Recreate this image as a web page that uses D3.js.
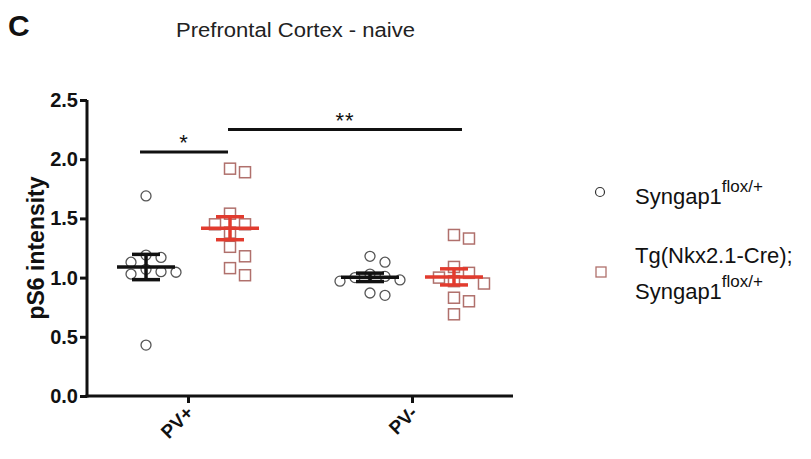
<!DOCTYPE html>
<html>
<head>
<meta charset="utf-8">
<script src="https://cdn.jsdelivr.net/npm/d3@7"></script>
<style>
  body { margin: 0; background: #fff; }
  svg { display: block; }
  text { font-family: "Liberation Sans", Arial, sans-serif; }
</style>
</head>
<body>
<svg id="chart" width="811" height="459"></svg>
<script>
// groups on the x axis and the two genotypes
var groups = ["PV+", "PV-"];
var seriesKeys = ["ctrl", "mut"];

// individual animals
var ctrlPVpos = [1.69, 1.19, 1.17, 1.13, 1.07, 1.05, 1.045, 1.03, 0.43];
var mutPVpos = [1.92, 1.89, 1.54, 1.45, 1.45, 1.38, 1.26, 1.18, 1.08, 1.02];
var ctrlPVneg = [1.18, 1.13, 1.03, 1.01, 1.00, 0.98, 0.97, 0.87, 0.85];
var mutPVneg = [1.36, 1.33, 1.09, 1.04, 1.00, 0.97, 0.95, 0.83, 0.80, 0.69];

var yTicks = [0, 0.5, 1.0, 1.5, 2.0, 2.5];

// significance brackets: [group, series] -> [group, series]
var brackets = [
    {from: ["PV+", "ctrl"], to: ["PV+", "mut"], y: 2.06, label: "*"},
    {from: ["PV+", "mut"], to: ["PV-", "mut"], y: 2.25, label: "**"}
];

var cells = [
    {group: "PV+", series: "ctrl", values: ctrlPVpos},
    {group: "PV+", series: "mut", values: mutPVpos},
    {group: "PV-", series: "ctrl", values: ctrlPVneg},
    {group: "PV-", series: "mut", values: mutPVneg}
];

var svg = d3.select("#chart"),
    plotLeft = 87, plotRight = 513, plotTop = 100, plotBottom = 396,
    colors = {ctrl: {line: "#111", mark: "#555"}, mut: {line: "#e23b2e", mark: "#b0706c"}};

var x = d3.scalePoint().domain(groups).range([plotLeft, plotRight]).padding(0.451),
    y = d3.scaleLinear().domain([0, 2.5]).range([plotBottom, plotTop]),
    shift = d3.scalePoint().domain(seriesKeys).range([-x.step() * 0.1875, x.step() * 0.1875]);

function cx(g, s) { return x(g) + shift(s); }

// titles
svg.append("text").attr("x", 8).attr("y", 36)
    .attr("font-size", 30).attr("font-weight", "bold").attr("fill", "#111").text("C");
svg.append("text").attr("x", 176).attr("y", 37)
    .attr("font-family", "'Open Sans', sans-serif").attr("font-size", 20).attr("fill", "#222")
    .attr("textLength", 239).attr("lengthAdjust", "spacingAndGlyphs")
    .text("Prefrontal Cortex - naive");

// axes
var yAxis = svg.append("g").attr("transform", "translate(" + plotLeft + ",0)")
    .call(d3.axisLeft(y).tickValues(yTicks).tickFormat(d3.format(".1f")).tickSize(7).tickSizeOuter(0));
var xAxis = svg.append("g").attr("transform", "translate(0," + plotBottom + ")")
    .call(d3.axisBottom(x).tickSize(7).tickSizeOuter(0).tickFormat(""));

svg.selectAll(".domain").attr("stroke", "#111").attr("stroke-width", 3);
svg.selectAll(".tick line").attr("stroke", "#111").attr("stroke-width", 3);
yAxis.select(".domain").attr("d", "M0," + (plotBottom + 1.5) + "V" + plotTop);
xAxis.select(".domain").attr("d", "M" + (plotLeft - 1.5) + ",0H" + plotRight);
yAxis.selectAll(".tick text").attr("x", -9).attr("font-size", 20).attr("font-weight", "bold")
    .attr("fill", "#111").attr("font-family", "'Liberation Sans', Arial, sans-serif");

xAxis.selectAll(".tick").append("text")
    .attr("transform", "translate(6,18) rotate(-45)")
    .attr("text-anchor", "end").attr("font-size", 19).attr("font-weight", "bold")
    .attr("fill", "#111").attr("font-family", "'Liberation Sans', Arial, sans-serif")
    .text(function(d) { return d; });

svg.append("text")
    .attr("transform", "translate(44," + ((plotTop + plotBottom) / 2) + ") rotate(-90)")
    .attr("text-anchor", "middle").attr("font-size", 23).attr("font-weight", "bold")
    .attr("fill", "#111")
    .text("pS6 intensity");

// simple swarm so points don't overlap
function swarm(values, center) {
    var placed = [], r = 5.5, step = 5;
    values.slice().sort(function(a, b) { return b - a; }).forEach(function(v) {
        var py = y(v);
        for (var k = 0; k < 40; k++) {
            var off = (k % 2 ? 1 : -1) * Math.ceil(k / 2) * step,
                px = center + off;
            var hit = placed.some(function(p) {
                return Math.abs(p.x - px) < 2 * r && Math.abs(p.y - py) < 2 * r;
            });
            if (!hit) { placed.push({x: px, y: py, v: v}); break; }
        }
    });
    return placed;
}

cells.forEach(function(c) {
    var pts = swarm(c.values, cx(c.group, c.series)),
        col = colors[c.series];
    if (c.series == "ctrl") {
        svg.selectAll(null).data(pts).enter().append("circle")
            .attr("cx", function(d) { return d.x; })
            .attr("cy", function(d) { return d.y; })
            .attr("r", 5)
            .attr("fill", "none").attr("stroke", col.mark).attr("stroke-width", 1.3);
    } else {
        svg.selectAll(null).data(pts).enter().append("rect")
            .attr("x", function(d) { return d.x - 5.5; })
            .attr("y", function(d) { return d.y - 5.5; })
            .attr("width", 11).attr("height", 11)
            .attr("fill", "none").attr("stroke", col.mark).attr("stroke-width", 1.5);
    }
});

// mean +- SEM
cells.forEach(function(c) {
    var m = d3.mean(c.values),
        sem = d3.deviation(c.values) / Math.sqrt(c.values.length),
        px = cx(c.group, c.series),
        col = colors[c.series].line,
        g = svg.append("g").attr("stroke", col).attr("stroke-width", 3.5);
    g.append("line").attr("x1", px - 29).attr("x2", px + 29).attr("y1", y(m)).attr("y2", y(m));
    g.append("line").attr("x1", px).attr("x2", px).attr("y1", y(m + sem)).attr("y2", y(m - sem));
    g.append("line").attr("x1", px - 14).attr("x2", px + 14).attr("y1", y(m + sem)).attr("y2", y(m + sem));
    g.append("line").attr("x1", px - 14).attr("x2", px + 14).attr("y1", y(m - sem)).attr("y2", y(m - sem));
});

// significance brackets
brackets.forEach(function(b) {
    var x1 = cx(b.from[0], b.from[1]) - 6, x2 = cx(b.to[0], b.to[1]) - 2;
    if (b.from[1] == "mut") { x1 = cx(b.from[0], b.from[1]) - 2; x2 = cx(b.to[0], b.to[1]) + 8; }
    svg.append("line").attr("x1", x1).attr("x2", x2).attr("y1", y(b.y)).attr("y2", y(b.y))
        .attr("stroke", "#111").attr("stroke-width", 3);
    svg.append("text").attr("x", (x1 + x2) / 2).attr("y", y(b.y) - 2)
        .attr("text-anchor", "middle").attr("font-size", 22).attr("fill", "#111")
        .attr("font-family", "'DejaVu Sans', sans-serif").attr("letter-spacing", 1)
        .text(b.label);
});

// legend
var legend = svg.append("g").attr("font-size", 22).attr("fill", "#111");
legend.append("circle").attr("cx", 600).attr("cy", 192).attr("r", 4.5)
    .attr("fill", "none").attr("stroke", "#333").attr("stroke-width", 1.2);
var t1 = legend.append("text").attr("x", 635).attr("y", 204);
t1.append("tspan").text("Syngap1");
t1.append("tspan").attr("dy", -12).attr("font-size", 17).text("flox/+");

legend.append("rect").attr("x", 596).attr("y", 267).attr("width", 10).attr("height", 10)
    .attr("fill", "none").attr("stroke", colors.mut.mark).attr("stroke-width", 1.3);
legend.append("text").attr("x", 635).attr("y", 263).text("Tg(Nkx2.1-Cre);");
var t2 = legend.append("text").attr("x", 635).attr("y", 299);
t2.append("tspan").text("Syngap1");
t2.append("tspan").attr("dy", -12).attr("font-size", 17).text("flox/+");
</script>
</body>
</html>
